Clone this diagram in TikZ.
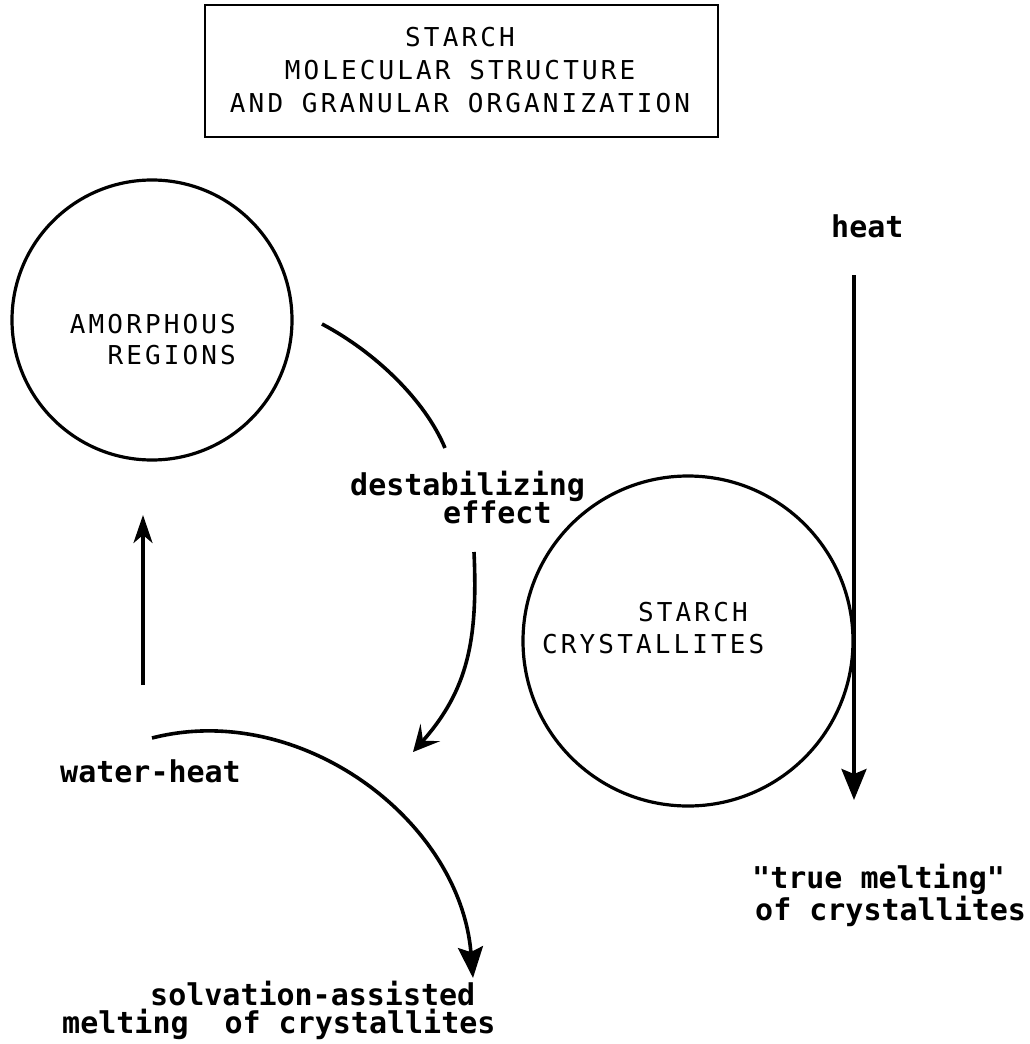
\documentclass[tikz,border=0pt]{standalone}
\usepackage{fontspec}
\usetikzlibrary{arrows.meta}
\newfontfamily\capsfont[LetterSpace=12]{DejaVu Sans Mono}
\setmonofont{DejaVu Sans Mono}
\begin{document}
\begin{tikzpicture}[x=1pt,y=-1pt,
  caps/.style={font=\capsfont\fontsize{26}{33}\selectfont, inner sep=0pt},
  lows/.style={font=\ttfamily\bfseries\fontsize{30}{32}\selectfont, inner sep=0pt},
  ring/.style={draw, circle, line width=3.2pt, inner sep=0pt},
  arr/.style={line width=3.6pt},
  bigtip/.style={-{Stealth[length=31pt,width=25pt,inset=5pt]}},
  smalltip/.style={-{Stealth[length=28pt,width=19pt,inset=8pt]}},
  opentip/.style={-{Stealth[length=26pt,width=26pt,inset=11pt]}}]
\useasboundingbox (0,0) rectangle (1029,1044);
% title
\node[draw, line width=2.2pt, minimum width=513pt, minimum height=132pt, inner sep=0pt] (titlebox) at (461.5,71) {};
\node[caps, anchor=base] (t1) at (460,46) {STARCH};
\node[caps, anchor=base] (t2) at (460,79) {MOLECULAR\hspace{18.8pt}STRUCTURE};
\node[caps, anchor=base] (t3) at (460,112) {AND\hspace{18.8pt}GRANULAR\hspace{18.8pt}ORGANIZATION};
% circles
\node[ring, minimum size=280pt] (amorph) at (152,320) {};
\node[caps, anchor=base east] (am1) at (236,333) {AMORPHOUS};
\node[caps, anchor=base east] (am2) at (236,364) {REGIONS};
\node[ring, minimum size=330pt] (cryst) at (688,641) {};
\node[caps, anchor=base west] (cr1) at (638,621) {STARCH};
\node[caps, anchor=base west] (cr2) at (542,653) {CRYSTALLITES};
% labels
\node[lows, anchor=base west] (heat) at (831,237) {heat};
\node[lows, anchor=base west] (dest) at (350,495) {destabilizing};
\node[lows, anchor=base west] (eff) at (443,523) {effect};
\node[lows, anchor=base west] (wh) at (60,782) {water-heat};
\node[lows, anchor=base west] (solv) at (150,1005) {solvation-assisted};
\node[lows, anchor=base west] (melt) at (62,1033) {melting\hspace{36pt}of\hspace{18pt}crystallites};
\node[lows, anchor=base west] (tm1) at (752,888) {"true\hspace{18pt}melting"};
\node[lows, anchor=base west] (tm2) at (755,920) {of\hspace{18pt}crystallites};
% connectors
\coordinate (d1s) at (322,324);
\coordinate (d1e) at (445,448);
\draw[arr] (d1s) .. controls (375,352) and (425,400) .. (d1e);
\coordinate (d2s) at (474,552);
\coordinate (d2e) at (413,752);
\draw[arr, opentip] (d2s) .. controls (478,640) and (468,690) .. (d2e);
\coordinate (us) at (143,685);
\coordinate (ue) at (143,515);
\draw[arr, smalltip] (us) -- (ue);
\coordinate (bs) at (152,738);
\coordinate (be) at (473,978);
\draw[arr, bigtip] (bs) .. controls (300,700) and (460,820) .. (be);
\coordinate (hs) at (854,275);
\coordinate (he) at (854,800);
\draw[arr, bigtip] (hs) -- (he);
\end{tikzpicture}
\end{document}
